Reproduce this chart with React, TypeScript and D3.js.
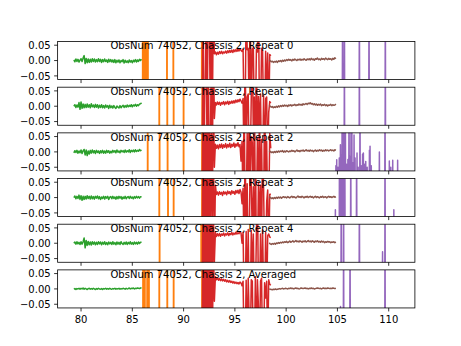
import React from "react";
import * as d3 from "d3";

const TITLES = [
  "ObsNum 74052, Chassis 2, Repeat 0",
  "ObsNum 74052, Chassis 2, Repeat 1",
  "ObsNum 74052, Chassis 2, Repeat 2",
  "ObsNum 74052, Chassis 2, Repeat 3",
  "ObsNum 74052, Chassis 2, Repeat 4",
  "ObsNum 74052, Chassis 2, Averaged",
];
const X_TICKS = [80, 85, 90, 95, 100, 105, 110];
const Y_TICKS = [0.05, 0, -0.05];
const X_DATA_MIN = 79.3;
const X_DATA_MAX = 110.97;
const Y_LIM = [-0.062, 0.062];

// sampling of the three continuous bands (values in units of 0.001)
const GREEN_START = 79.3, GREEN_STEP = 0.1;
const RED_START = 91.8, RED_STEP = 0.1;
const BROWN_START = 98.35, BROWN_STEP = 0.1;
const PURPLE_START = 104.75, PURPLE_END = 110.97;
const ORANGE_START = 86.0, ORANGE_END = 91.85;

const green0 = [2,-4,5,-3,4,-5,1,6,-3,8, 16,-10,7,-7,5,-6,4,-5,6,-3, 5,-5,3,-4,6,-3,4,-6,3,-4, 5,-3,2,-6,4,-4,3,-5,2,-6, 3,-7,1,-5,2,-7,0,-4,3,-8, 1,-6,-1,-7,2,-5,0,-7,1,-4, 3,-5,2,-3,4,0,4];
const green1 = [0,5,-4,4,-3,12,-10,14,-7,7, -5,6,-4,7,-3,5,-5,8,-2,4, -4,6,-3,5,-6,3,-4,5,-5,2, -6,4,-3,2,-7,3,-5,1,-6,2, -4,-7,1,-3,-6,2,-5,0,3,-4, 2,-3,4,-2,3,-1,5,-2,4,1, 6,0,5,2,7,8,11];
const green2 = [-3,4,-2,5,-4,3,-3,6,-5,4, 8,-10,6,-12,3,-7,5,-4,6,-3, 4,-5,5,-2,3,-5,4,-3,5,-4, 3,-4,5,-2,4,-4,2,-3,5,-1, 4,-3,6,-1,3,-3,5,0,4,-2, 6,-1,4,0,7,-2,5,1,6,0, 7,1,5,2,8,4,6];
const green3 = [0,5,-4,4,-3,8,-6,6,-9,4, -6,4,-5,6,-3,4,-5,5,-4,3, -5,4,-2,5,-4,3,-6,2,-3,4, -5,3,-2,4,-6,1,3,-4,4,-3, 2,-5,3,-4,4,-2,3,-5,2,-3, 4,-4,1,3,-3,4,-2,2,-4,3, -2,4,-1,3,-2,3,2];
const green4 = [0,4,-3,5,-2,3,-4,5,-3,5, 17,-15,9,-7,6,-5,4,-6,5,-3, 4,-5,3,-4,5,-2,4,-5,3,-3, 5,-4,2,-5,4,-2,3,-4,5,-3, 2,-5,4,-3,3,-4,5,-1,-4,3, -3,4,-4,3,-2,5,-3,2,-4,4, -2,3,-3,4,-1,3,3];
const green5 = [-1,1,-2,1,0,2,-1,2,0,3, -1,2,0,-2,1,2,-1,1,-1,2, 0,-2,1,-1,2,0,-1,1,-2,1, 0,2,-1,1,-1,2,0,-1,1,0, 2,-1,1,0,2,-1,1,0,2,1, -1,2,0,1,3,0,2,1,3,0, 2,1,3,2,1,3,4];

const red0 = [-200,200,-200,-200,200,-200,200,200,-200,200,-200,200, 22,28,19,27,21,29,23,30,22,28,25,31,24,32,26,33,27,34,26,35,29,36,30,37,31,38,33, 30,38,-200,-200,200,35,40,-200,200,-200,38,42,-200,-200,36,28,200,-200,-200,40,32,-200,-200,30,-120,25,-200,20,15];
const red1 = [-200,200,-200,200,200,-200,200,-200,-200,200,-200,200,-40, 12,4,14,6,13,3,12,7,15,5,14,8,16,6,15,9,17,10,18,11,20,13,21,15,23,17, 10,25,-200,200,-200,30,40,-200,-200,35,200,-100,30,-200,200,-200,32,-60,40,-200,-200,35,-200,25,30,-200,-20,15,10];
const red2 = [-200,200,-200,150,-200,200,-120,200,-200,60,-200,200,-50, 25,12,22,10,24,14,26,12,23,15,27,13,24,16,28,14,25,18,29,15,26,19,30,17,24, -30,35,-200,200,-200,-200,60,-200,200,-150,50,30,-200,200,-200,-200,45,-200,150,-200,40,-200,-200,200,-100,35,-200,-200,60,12];
const red3 = [-200,200,-200,200,-200,100,-200,200,-200,200,-80,200,-200, 40,10,18,8,19,11,17,7,20,12,18,9,21,13,19,10,22,14,20,11,23,15,24,13,26,18, -20,30,-200,200,-200,45,-200,-200,200,40,-120,35,-200,200,-200,-200,50,-60,40,-200,200,30,-200,-200,-15,25,-200,10,12];
const red4 = [-200,200,-200,200,-200,200,-150,200,-200,200,-200,100,-60, 35,22,31,24,32,23,30,26,33,24,31,27,34,25,32,28,35,27,33,29,36,30,34,31,38,33, 0,36,-200,-200,38,-200,45,-200,-200,42,-90,30,-200,-200,38,200,-200,-200,30,-200,44,-150,-200,35,-200,25,30,20,18];
const red5 = [-200,200,-200,200,-150,200,-200,200,-200,200,-200,150,-40, 40,30,36,28,34,27,33,26,31,25,30,23,28,22,27,21,25,19,24,18,22,17,21,16,22,19, 10,25,-200,-200,28,-200,35,-100,-200,30,25,-200,-200,40,-200,30,-60,-200,25,35,-200,-200,20,-30,25,-200,30,15,12];

const brown0 = [2,-1,-4,-2,-6,-3,-5,-2,-6,-1, -3,0,-4,1,-2,2,-1,3,0,4, 1,3,-1,4,1,5,2,0,4,2, 5,1,4,2,6,3,1,5,3,6, 2,7,3,5,1,6,4,8,3,5, 2,7,4,6,3,8,5,3,7,4, 6,2,7,4,9,6];
const brown1 = [3,0,-3,-1,-5,-2,-4,0,-3,1, -2,2,-1,3,0,4,1,3,-1,4, 2,5,1,4,3,6,2,5,3,7, 4,6,3,8,5,7,9,6,10,8, 11,7,9,5,8,4,7,3,6,4, 7,2,5,3,6,2,5,1,4,3, 6,2,5,3,4,7];
const brown2 = [4,1,-2,0,-3,1,-2,2,-1,3, 0,3,1,4,-1,3,0,4,2,0, 3,1,5,2,4,0,3,6,2,4, 1,5,3,6,2,4,7,3,5,2, 6,3,5,1,4,6,2,5,3,7, 4,6,2,5,3,7,4,6,3,5, 7,4,6,3,7,5];
const brown3 = [3,0,-3,-1,-4,0,-3,1,-2,2, -1,2,-2,1,3,0,2,-1,3,1, -1,2,4,0,3,1,-1,2,5,1, 3,0,4,2,-1,3,1,4,0,2, 4,1,3,-1,2,4,0,3,1,-1, 3,1,4,0,2,3,-1,2,4,1, 3,0,2,4,1,3];
const brown4 = [1,-2,-4,-1,-3,0,-3,1,-1,2, 0,3,1,4,2,5,3,6,2,4, 7,3,5,8,4,6,9,5,7,4, 8,6,3,7,5,8,4,6,9,5, 7,4,8,6,3,7,5,8,4,6, 3,7,4,6,2,5,3,6,4,5, 2,4,3,5,2,4];
const brown5 = [0,-1,-2,-3,-1,-2,0,-2,-1,0, 1,0,1,2,0,1,2,1,0,2, 1,3,1,2,0,2,3,1,2,0, 1,3,2,1,2,3,1,2,0,2, 1,3,1,2,0,1,2,3,2,1, 2,0,2,3,1,2,1,3,2,1, 2,1,3,2,1,2];

// positions where the orange band spikes through the full range
const orange0 = [86.02, 86.18, 86.34, 86.52, 88.38, 89.0, 91.78];
const orange1 = [87.63, 88.41, 89.03, 90.0, 91.82];
const orange2 = [86.5, 87.66, 88.44, 90.0, 91.8];
const orange3 = [87.63, 88.48, 89.03, 91.8];
const orange4 = [87.66, 91.72, 91.88];
const orange5 = [86.05, 86.22, 86.45, 86.62, 87.63, 88.41, 89.03, 91.8];

// purple band peaks: [position, peak value in 0.001]
const purple0 = [[105.5,200],[105.68,200],[107.14,200],[108.08,200],[109.67,200]];
const purple1 = [[105.68,200],[107.14,200],[109.67,200]];
const purple2 = [[104.85,-45],[104.93,-26],[105.05,-50],[105.18,-20],[105.29,23],[105.38,-10],[105.46,200],[105.54,200],[105.62,200],[105.7,200],[105.77,200],[105.9,-40],[106.02,-25],[106.13,200],[106.22,-15],[106.33,200],[106.4,200],[106.5,-35],[106.62,55],[106.72,-20],[106.91,-4],[107.02,-50],[107.2,200],[107.32,-45],[107.45,-8],[107.53,-4],[107.64,-40],[107.76,-31],[107.9,-50],[108.12,5],[108.18,18],[108.3,-45],[109.09,0],[109.64,200],[110.06,-30],[110.2,-50],[110.39,-27],[110.87,-27]];
const purple3 = [[104.8,-40],[105.2,200],[105.33,200],[105.46,200],[105.58,200],[105.72,200],[106.3,200],[106.87,200],[109.64,200],[110.5,-40]];
const purple4 = [[105.37,200],[105.6,200],[107.14,200],[109.4,-28],[109.64,200]];
const purple5 = [[105.3,-57],[105.6,200],[106.23,200],[109.64,200]];

const GREENS = [green0, green1, green2, green3, green4, green5];
const REDS = [red0, red1, red2, red3, red4, red5];
const BROWNS = [brown0, brown1, brown2, brown3, brown4, brown5];
const ORANGES = [orange0, orange1, orange2, orange3, orange4, orange5];
const PURPLES = [purple0, purple1, purple2, purple3, purple4, purple5];

const COLORS = {
  green: "#2ca02c",
  orange: "#ff7f0e",
  red: "#d62728",
  brown: "#8c564b",
  purple: "#9467bd",
};

const W = 461, H = 346;
const LEFT = 0.125 * W, RIGHT = 0.9 * W;
const TOP = 0.12 * H, BOTTOM = 0.89 * H;
const N = 6, HSPACE = 0.2;
const PH = (BOTTOM - TOP) / (N + (N - 1) * HSPACE);
const GAP = PH * HSPACE;
const FONT = "'DejaVu Sans', sans-serif";

type Pt = [number, number];

function sampled(start: number, step: number, vals: number[]): Pt[] {
  return vals.map((v, i) => [start + i * step, v / 1000]);
}
function spikes(start: number, end: number, pos: number[]): Pt[] {
  const pts: Pt[] = [[start, -1]];
  pos.forEach((p) => {
    pts.push([p - 0.035, -1], [p, 1], [p + 0.035, -1]);
  });
  pts.push([end, -1]);
  return pts;
}
function peaks(start: number, end: number, pk: number[][]): Pt[] {
  const base = -0.2;
  const pts: Pt[] = [[start, base]];
  pk.forEach(([p, h]) => {
    pts.push([p - 0.03, base], [p, h / 1000], [p + 0.03, base]);
  });
  pts.push([end, base]);
  return pts;
}

export default function App() {
  const pad = (X_DATA_MAX - X_DATA_MIN) * 0.05;
  const x = d3.scaleLinear().domain([X_DATA_MIN - pad, X_DATA_MAX + pad]).range([LEFT, RIGHT]);

  return (
    <svg width={W} height={H} style={{ position: "absolute", left: 0, top: 0, background: "#fff" }}>
      <rect x={0} y={0} width={W} height={H} fill="#fff" />
      {TITLES.map((title, k) => {
        const top = TOP + k * (PH + GAP);
        const bot = top + PH;
        const y = d3.scaleLinear().domain(Y_LIM).range([bot, top]);
        const line = d3.line<Pt>().x((d) => x(d[0])).y((d) => y(d[1]));
        const series: [string, Pt[]][] = [
          [COLORS.green, sampled(GREEN_START, GREEN_STEP, GREENS[k])],
          [COLORS.orange, spikes(ORANGE_START, ORANGE_END, ORANGES[k])],
          [COLORS.red, sampled(RED_START, RED_STEP, REDS[k])],
          [COLORS.brown, sampled(BROWN_START, BROWN_STEP, BROWNS[k])],
          [COLORS.purple, peaks(PURPLE_START, PURPLE_END, PURPLES[k])],
        ];
        const clipId = `clip${k}`;
        return (
          <g key={k}>
            <defs>
              <clipPath id={clipId}>
                <rect x={LEFT} y={top} width={RIGHT - LEFT} height={PH} />
              </clipPath>
            </defs>
            <g clipPath={`url(#${clipId})`}>
              {series.map(([c, pts], i) => (
                <path key={i} d={line(pts) || ""} fill="none" stroke={c} strokeWidth={1.5} strokeLinejoin="round" />
              ))}
            </g>
            <rect x={LEFT} y={top} width={RIGHT - LEFT} height={PH} fill="none" stroke="#000" strokeWidth={0.8} />
            {Y_TICKS.map((t) => (
              <g key={t}>
                <line x1={LEFT - 3.5} x2={LEFT} y1={y(t)} y2={y(t)} stroke="#000" strokeWidth={0.8} />
                <text x={LEFT - 7} y={y(t) + 3.7} textAnchor="end" fontFamily={FONT} fontSize={10} fill="#000">
                  {d3.format(".2f")(t).replace("-", "\u2212")}
                </text>
              </g>
            ))}
            {X_TICKS.map((t) => (
              <g key={t}>
                <line x1={x(t)} x2={x(t)} y1={bot} y2={bot + 3.5} stroke="#000" strokeWidth={0.8} />
                {k === N - 1 && (
                  <text x={x(t)} y={bot + 15} textAnchor="middle" fontFamily={FONT} fontSize={10} fill="#000">
                    {t}
                  </text>
                )}
              </g>
            ))}
            <text x={LEFT + 0.148 * (RIGHT - LEFT)} y={top + 7.8} fontFamily={FONT} fontSize={10} fill="#000">
              {title}
            </text>
          </g>
        );
      })}
    </svg>
  );
}
